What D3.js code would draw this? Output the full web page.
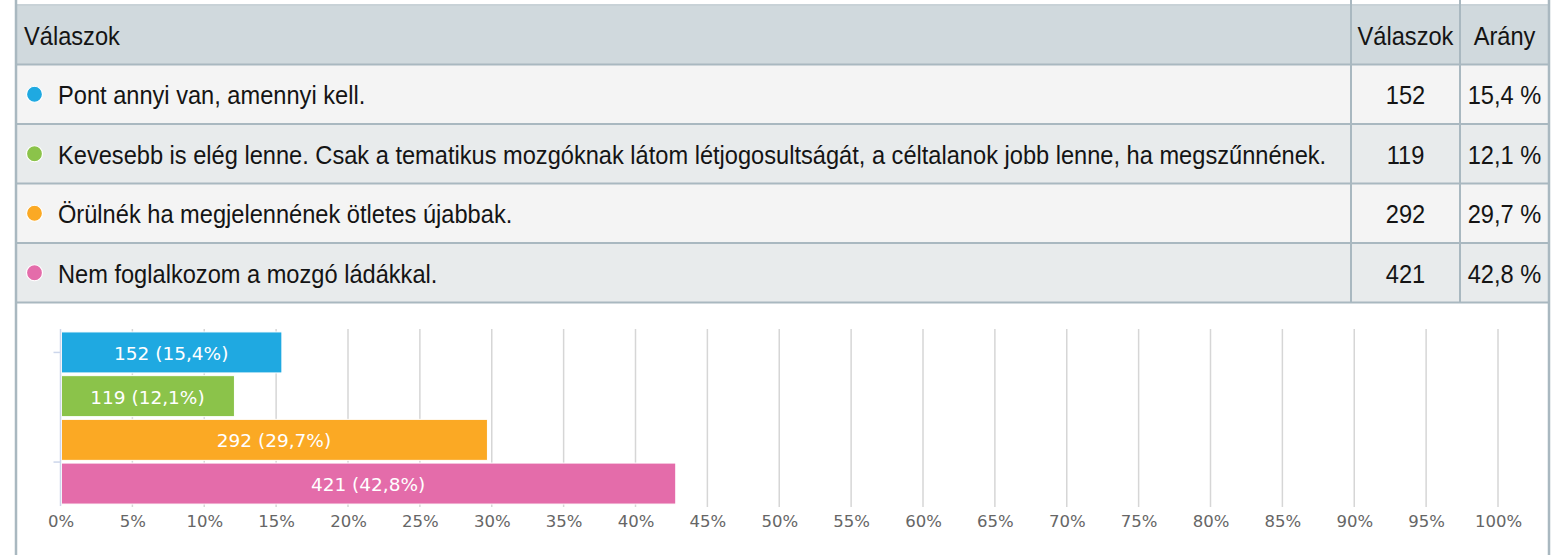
<!DOCTYPE html>
<html>
<head>
<meta charset="utf-8">
<script src="https://cdn.jsdelivr.net/npm/d3@7"></script>
<style>
  html, body { margin: 0; padding: 0; background: #ffffff; }
  svg { display: block; }
</style>
</head>
<body>
<svg id="chart" width="1554" height="555"></svg>
<script>
// ---- data ----
const categories = [
  "Pont annyi van, amennyi kell.",
  "Kevesebb is elég lenne. Csak a tematikus mozgóknak látom létjogosultságát, a céltalanok jobb lenne, ha megszűnnének.",
  "Örülnék ha megjelennének ötletes újabbak.",
  "Nem foglalkozom a mozgó ládákkal."
];
const counts = [152, 119, 292, 421];
const percents = [15.4, 12.1, 29.7, 42.8];
const seriesColors = ["#1fa9e1", "#8bc34a", "#fba924", "#e46caa"];
const headerLabels = ["Válaszok", "Válaszok", "Arány"];
const xTickValues = [0, 5, 10, 15, 20, 25, 30, 35, 40, 45, 50, 55, 60, 65, 70, 75, 80, 85, 90, 95, 100];

const fmt = v => String(v.toFixed(1)).replace(".", ",");

const svg = d3.select("#chart");

// ---- table ----
const tableFont = "'Liberation Sans Narrow', 'Arial Narrow', 'Liberation Sans', sans-serif";
const colX = [16, 1351, 1460, 1549];
const rowY = d3.scaleLinear().domain([0, 5]).range([5, 302.5]); // header + 4 rows
const borderColor = "#a9b8c0";

const table = svg.append("g");
table.append("rect")
  .attr("x", colX[0]).attr("y", rowY(0))
  .attr("width", colX[3] - colX[0]).attr("height", rowY(1) - rowY(0))
  .attr("fill", "#d0d9dd");
table.selectAll("rect.row").data(categories).join("rect")
  .attr("class", "row")
  .attr("x", colX[0]).attr("y", (d, i) => rowY(i + 1))
  .attr("width", colX[3] - colX[0]).attr("height", rowY(2) - rowY(1))
  .attr("fill", (d, i) => i % 2 === 0 ? "#f4f4f4" : "#e8ebec");

table.selectAll("line.h").data(d3.range(0, 6)).join("line")
  .attr("class", "h")
  .attr("x1", colX[0]).attr("x2", colX[3])
  .attr("y1", d => rowY(d)).attr("y2", d => rowY(d))
  .attr("stroke", d => d === 0 ? "#c8d2d7" : borderColor)
  .attr("stroke-width", 2);
table.selectAll("line.v").data([1, 2]).join("line")
  .attr("class", "v")
  .attr("x1", d => colX[d]).attr("x2", d => colX[d])
  .attr("y1", 0).attr("y2", rowY(5))
  .attr("stroke", borderColor).attr("stroke-width", 2);
table.selectAll("line.o").data([0, 3]).join("line")
  .attr("class", "o")
  .attr("x1", d => colX[d]).attr("x2", d => colX[d])
  .attr("y1", 0).attr("y2", 555)
  .attr("stroke", borderColor).attr("stroke-width", 2.5);

const textColor = "#141414";
const texts = [];
const hy = (rowY(0) + rowY(1)) / 2;
texts.push(table.append("text").attr("data-x", 24).attr("data-y", hy).attr("data-anchor", "start").text(headerLabels[0]));
texts.push(table.append("text").attr("data-x", (colX[1] + colX[2]) / 2).attr("data-y", hy).attr("data-anchor", "middle").text(headerLabels[1]));
texts.push(table.append("text").attr("data-x", (colX[2] + colX[3]) / 2).attr("data-y", hy).attr("data-anchor", "middle").text(headerLabels[2]));

categories.forEach((c, i) => {
  const cy = (rowY(i + 1) + rowY(i + 2)) / 2;
  table.append("circle")
    .attr("cx", 34.5).attr("cy", cy).attr("r", 8)
    .attr("fill", seriesColors[i]).attr("stroke", "#ffffff").attr("stroke-width", 1.2);
  texts.push(table.append("text").attr("data-x", 58).attr("data-y", cy).attr("data-anchor", "start").attr("data-long", i === 1 ? 1 : 0).text(c));
  texts.push(table.append("text").attr("data-x", (colX[1] + colX[2]) / 2).attr("data-y", cy).attr("data-anchor", "middle").text(counts[i]));
  texts.push(table.append("text").attr("data-x", (colX[2] + colX[3]) / 2).attr("data-y", cy).attr("data-anchor", "middle").text(fmt(percents[i]) + " %"));
});

texts.forEach(t => {
  t.attr("font-family", tableFont).attr("font-size", 26).attr("fill", textColor)
   .attr("text-anchor", t.attr("data-anchor")).attr("dominant-baseline", "central");
});
const longT = texts.find(t => t.attr("data-long") === "1");
const measured = longT.node().getComputedTextLength();
const sx = measured > 0 ? 1269 / measured : 1;
texts.forEach(t => {
  t.attr("transform", `translate(${+t.attr("data-x")},${+t.attr("data-y") + 1}) scale(${sx},1)`);
});

// ---- bar chart ----
const x = d3.scaleLinear().domain([0, 100]).range([60.5, 1498]);
const y = d3.scaleBand().domain(categories).range([329, 507]).paddingInner(0.062).paddingOuter(0.067);

const chart = svg.append("g");
chart.append("g").selectAll("line").data(xTickValues.filter(v => v > 0)).join("line")
  .attr("x1", d => x(d)).attr("x2", d => x(d))
  .attr("y1", 329).attr("y2", 507)
  .attr("stroke", "#d6d6d6").attr("stroke-width", 1.5);

chart.append("g").selectAll("rect").data(categories).join("rect")
  .attr("x", x(0) + 1).attr("y", d => y(d))
  .attr("width", (d, i) => x(percents[i]) - x(0) - 1)
  .attr("height", y.bandwidth())
  .attr("fill", (d, i) => seriesColors[i])
  .attr("stroke", "#ffffff").attr("stroke-width", 1);

chart.append("g").selectAll("text").data(categories).join("text")
  .attr("x", (d, i) => (x(0) + x(percents[i])) / 2)
  .attr("y", d => y(d) + y.bandwidth() / 2 + 1)
  .attr("text-anchor", "middle").attr("dominant-baseline", "central")
  .attr("font-family", "'DejaVu Sans', sans-serif").attr("font-size", 18.5)
  .attr("fill", "#ffffff")
  .text((d, i) => `${counts[i]} (${fmt(percents[i])}%)`);

chart.append("line")
  .attr("x1", x(0)).attr("x2", x(0)).attr("y1", 329).attr("y2", 506)
  .attr("stroke", "#ccd6eb").attr("stroke-width", 1.5);
chart.append("g").selectAll("line").data([y(categories[0]) + y.bandwidth() / 2, y(categories[3]) - 1]).join("line")
  .attr("x1", x(0) - 7).attr("x2", x(0))
  .attr("y1", d => d).attr("y2", d => d)
  .attr("stroke", "#ccd6eb").attr("stroke-width", 1.5);

const xAxis = d3.axisBottom(x).tickValues(xTickValues).tickFormat(d => d + "%").tickSize(0).tickPadding(0);
const gx = chart.append("g").attr("transform", "translate(0,515)").call(xAxis);
gx.select(".domain").remove();
gx.selectAll("text")
  .attr("font-family", "'DejaVu Sans', sans-serif").attr("font-size", 16.5)
  .attr("fill", "#666666").attr("dy", "0.71em");
</script>
</body>
</html>
